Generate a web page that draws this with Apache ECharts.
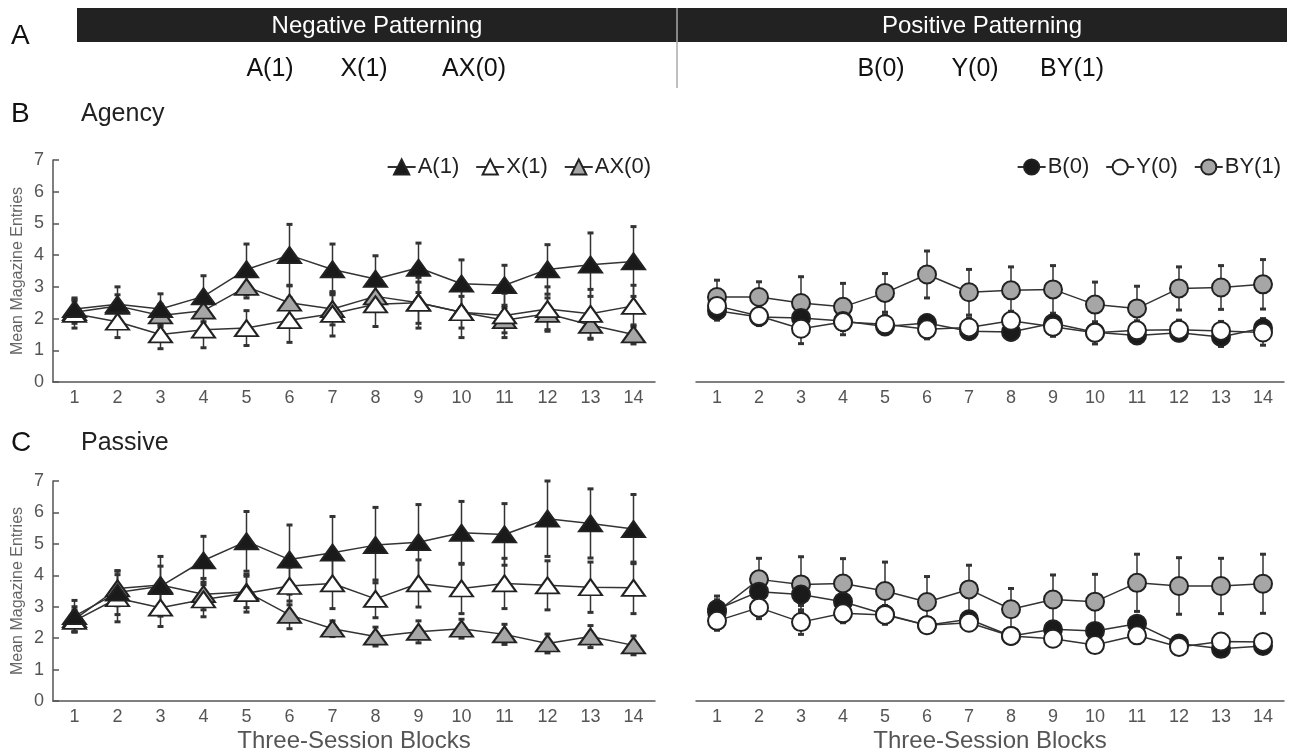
<!DOCTYPE html>
<html>
<head>
<meta charset="utf-8">
<script src="https://cdn.jsdelivr.net/npm/echarts@6/dist/echarts.min.js"></script>
<style>
  html, body { margin: 0; padding: 0; background: #fff; }
  #main { width: 1299px; height: 754px; }
</style>
</head>
<body>
<div id="main"></div>
<script>
// blocks on the x axis
var blocks = ["1", "2", "3", "4", "5", "6", "7", "8", "9", "10", "11", "12", "13", "14"];
var yTicks = [0, 1, 2, 3, 4, 5, 6, 7];

// B - Agency, negative patterning
var agencyA = [2.3, 2.45, 2.3, 2.7, 3.55, 4.0, 3.55, 3.25, 3.6, 3.1, 3.05, 3.55, 3.7, 3.8];
var agencyAErr = [0.35, 0.55, 0.48, 0.65, 0.8, 0.97, 0.8, 0.73, 0.78, 0.75, 0.63, 0.78, 1.0, 1.1];
var agencyX = [2.15, 1.9, 1.5, 1.65, 1.7, 1.95, 2.15, 2.45, 2.5, 2.2, 2.1, 2.3, 2.15, 2.4];
var agencyXErr = [0.45, 0.5, 0.45, 0.57, 0.55, 0.7, 0.7, 0.7, 0.8, 0.8, 0.7, 0.7, 0.77, 0.65];
var agencyAX = [2.2, 2.4, 2.1, 2.25, 3.0, 2.5, 2.3, 2.7, 2.5, 2.2, 1.95, 2.15, 1.8, 1.5];
var agencyAXErr = [0.35, 0.35, 0.35, 0.35, 0.35, 0.55, 0.5, 0.45, 0.65, 0.5, 0.4, 0.5, 0.45, 0.3];

// B - Agency, positive patterning
var agencyB = [2.25, 2.05, 2.02, 1.92, 1.75, 1.86, 1.6, 1.58, 1.85, 1.57, 1.47, 1.55, 1.42, 1.7];
var agencyBErr = [0.3, 0.2, 0.25, 0.3, 0.25, 0.25, 0.25, 0.25, 0.25, 0.25, 0.25, 0.25, 0.3, 0.3];
var agencyY = [2.4, 2.08, 1.68, 1.89, 1.82, 1.66, 1.72, 1.93, 1.74, 1.55, 1.63, 1.65, 1.61, 1.56];
var agencyYErr = [0.3, 0.3, 0.47, 0.4, 0.3, 0.3, 0.3, 0.3, 0.3, 0.35, 0.3, 0.3, 0.3, 0.4];
var agencyBY = [2.68, 2.68, 2.49, 2.37, 2.81, 3.39, 2.83, 2.89, 2.92, 2.44, 2.32, 2.95, 2.98, 3.08];
var agencyBYErr = [0.53, 0.48, 0.83, 0.74, 0.61, 0.74, 0.72, 0.74, 0.75, 0.71, 0.7, 0.68, 0.69, 0.78];

// C - Passive, negative patterning
var passiveA = [2.7, 3.45, 3.65, 4.47, 5.08, 4.5, 4.72, 4.96, 5.05, 5.35, 5.3, 5.8, 5.65, 5.47];
var passiveAErr = [0.5, 0.7, 0.95, 0.77, 0.95, 1.1, 1.15, 1.2, 1.2, 1.0, 0.98, 1.2, 1.1, 1.1];
var passiveX = [2.55, 3.27, 2.97, 3.23, 3.43, 3.66, 3.74, 3.25, 3.74, 3.58, 3.74, 3.68, 3.62, 3.6];
var passiveXErr = [0.35, 0.75, 0.6, 0.55, 0.6, 0.6, 0.8, 0.6, 0.75, 0.8, 0.8, 0.78, 0.8, 0.82];
var passiveAX = [2.6, 3.58, 3.69, 3.4, 3.47, 2.74, 2.3, 2.05, 2.2, 2.3, 2.12, 1.83, 2.05, 1.77];
var passiveAXErr = [0.4, 0.55, 0.6, 0.5, 0.5, 0.44, 0.25, 0.3, 0.35, 0.3, 0.32, 0.3, 0.35, 0.3];

// C - Passive, positive patterning
var passiveB = [2.92, 3.48, 3.39, 3.16, 2.76, 2.41, 2.6, 2.07, 2.28, 2.23, 2.46, 1.83, 1.66, 1.75];
var passiveBErr = [0.3, 0.4, 0.35, 0.3, 0.25, 0.2, 0.25, 0.2, 0.2, 0.2, 0.2, 0.15, 0.15, 0.15];
var passiveY = [2.55, 2.97, 2.51, 2.79, 2.74, 2.41, 2.49, 2.07, 1.98, 1.78, 2.09, 1.72, 1.89, 1.88];
var passiveYErr = [0.3, 0.35, 0.39, 0.3, 0.3, 0.2, 0.25, 0.2, 0.2, 0.2, 0.15, 0.15, 0.15, 0.15];
var passiveBY = [2.84, 3.87, 3.71, 3.74, 3.5, 3.15, 3.55, 2.92, 3.23, 3.16, 3.76, 3.66, 3.66, 3.73];
var passiveBYErr = [0.5, 0.67, 0.88, 0.79, 0.92, 0.81, 0.77, 0.66, 0.78, 0.87, 0.91, 0.9, 0.88, 0.94];

var FONT = "Liberation Sans, Arial, sans-serif";
var INK = "#222";
var AXIS = "#555";

var chart = echarts.init(document.getElementById("main"));

var panels = [
  { left: 53, top: 160, width: 602, height: 222, yShow: true, xName: "" },
  { left: 696, top: 160, width: 588, height: 222, yShow: false, xName: "" },
  { left: 53, top: 481, width: 602, height: 222, yShow: true, xName: "Three-Session Blocks" },
  { left: 696, top: 481, width: 588, height: 222, yShow: false, xName: "Three-Session Blocks" },
];

var grids = [], xAxes = [], yAxes = [];
panels.forEach(function (p, i) {
  grids.push({ left: p.left, top: p.top, width: p.width, height: p.height });
  xAxes.push({
    type: "category",
    gridIndex: i,
    data: blocks,
    boundaryGap: true,
    name: p.xName,
    nameLocation: "middle",
    nameGap: 28,
    nameTextStyle: { fontFamily: FONT, fontSize: 24, color: AXIS },
    axisLine: { lineStyle: { color: AXIS, width: 1.5 } },
    axisTick: { alignWithLabel: true, inside: true, length: 6, lineStyle: { color: AXIS, width: 1.5 } },
    axisLabel: { fontFamily: FONT, fontSize: 18, color: AXIS, margin: 7 },
    splitLine: { show: false },
  });
  yAxes.push({
    type: "value",
    gridIndex: i,
    min: yTicks[0],
    max: yTicks[yTicks.length - 1],
    interval: 1,
    show: p.yShow,
    name: p.yShow ? "Mean Magazine Entries" : "",
    nameLocation: "middle",
    nameGap: 27,
    nameTextStyle: { fontFamily: FONT, fontSize: 16, color: "#666" },
    axisLine: { show: true, lineStyle: { color: AXIS, width: 1.5 } },
    axisTick: { show: true, inside: true, length: 6, lineStyle: { color: AXIS, width: 1.5 } },
    axisLabel: { fontFamily: FONT, fontSize: 18, color: AXIS, margin: 9 },
    splitLine: { show: false },
  });
});

function errorBars(idx, mean, err) {
  return {
    type: "custom",
    xAxisIndex: idx,
    yAxisIndex: idx,
    z: 1,
    silent: true,
    data: mean.map(function (m, i) { return [i, m, err[i]]; }),
    renderItem: function (params, api) {
      var x = api.value(0), m = api.value(1), e = api.value(2);
      var hi = api.coord([x, m + e]);
      var lo = api.coord([x, m - e]);
      var hw = 3;
      var st = { stroke: "#333", lineWidth: 1.5 };
      var cap = { stroke: "#333", lineWidth: 3 };
      return {
        type: "group",
        children: [
          { type: "line", shape: { x1: hi[0], y1: hi[1], x2: lo[0], y2: lo[1] }, style: st },
          { type: "line", shape: { x1: hi[0] - hw, y1: hi[1], x2: hi[0] + hw, y2: hi[1] }, style: cap },
          { type: "line", shape: { x1: lo[0] - hw, y1: lo[1], x2: lo[0] + hw, y2: lo[1] }, style: cap },
        ],
      };
    },
  };
}

function lineSeries(idx, name, values, symbol, fill) {
  return {
    type: "line",
    name: name,
    xAxisIndex: idx,
    yAxisIndex: idx,
    z: 3,
    data: values,
    symbol: symbol,
    symbolSize: symbol === "triangle" ? [23, 16] : 18,
    showAllSymbol: true,
    lineStyle: { color: "#333", width: 1.5 },
    itemStyle: { color: fill, borderColor: INK, borderWidth: 2 },
    emphasis: { disabled: true },
  };
}

var series = [
  errorBars(0, agencyA, agencyAErr),
  errorBars(0, agencyX, agencyXErr),
  errorBars(0, agencyAX, agencyAXErr),
  errorBars(1, agencyB, agencyBErr),
  errorBars(1, agencyY, agencyYErr),
  errorBars(1, agencyBY, agencyBYErr),
  errorBars(2, passiveA, passiveAErr),
  errorBars(2, passiveX, passiveXErr),
  errorBars(2, passiveAX, passiveAXErr),
  errorBars(3, passiveB, passiveBErr),
  errorBars(3, passiveY, passiveYErr),
  errorBars(3, passiveBY, passiveBYErr),

  lineSeries(0, "AX(0)", agencyAX, "triangle", "#a6a6a6"),
  lineSeries(0, "X(1)", agencyX, "triangle", "#ffffff"),
  lineSeries(0, "A(1)", agencyA, "triangle", "#1a1a1a"),
  lineSeries(1, "BY(1)", agencyBY, "circle", "#a6a6a6"),
  lineSeries(1, "B(0)", agencyB, "circle", "#1a1a1a"),
  lineSeries(1, "Y(0)", agencyY, "circle", "#ffffff"),
  lineSeries(2, "AX(0)", passiveAX, "triangle", "#a6a6a6"),
  lineSeries(2, "X(1)", passiveX, "triangle", "#ffffff"),
  lineSeries(2, "A(1)", passiveA, "triangle", "#1a1a1a"),
  lineSeries(3, "BY(1)", passiveBY, "circle", "#a6a6a6"),
  lineSeries(3, "B(0)", passiveB, "circle", "#1a1a1a"),
  lineSeries(3, "Y(0)", passiveY, "circle", "#ffffff"),
];

var legendText = { fontFamily: FONT, fontSize: 22, color: INK, padding: [0, 0, 0, -3] };

function headerText(x, y, text, size, color, align) {
  return {
    type: "text", x: x, y: y,
    style: { text: text, fill: color, font: size + "px " + FONT, textAlign: align || "center", textVerticalAlign: "middle" },
  };
}

var option = {
  animation: false,
  grid: grids,
  xAxis: xAxes,
  yAxis: yAxes,
  legend: [
    {
      data: ["A(1)", "X(1)", "AX(0)"],
      right: 1299 - 656,
      top: 151,
      itemWidth: 28,
      itemHeight: 19,
      itemGap: 16,
      textStyle: legendText,
      selectedMode: false,
    },
    {
      data: ["B(0)", "Y(0)", "BY(1)"],
      right: 13,
      top: 151,
      itemWidth: 28,
      itemHeight: 19,
      itemGap: 16,
      textStyle: legendText,
      selectedMode: false,
    },
  ],
  graphic: [
    { type: "rect", shape: { x: 77, y: 8, width: 1210, height: 34 }, style: { fill: "#222" } },
    { type: "line", shape: { x1: 677, y1: 8, x2: 677, y2: 88 }, style: { stroke: "#aaa", lineWidth: 1.5 }, z: 10 },
    headerText(377, 26, "Negative Patterning", 24, "#fff"),
    headerText(982, 26, "Positive Patterning", 24, "#fff"),
    headerText(11, 36, "A", 28, "#111", "left"),
    headerText(270, 69, "A(1)", 25, "#111"),
    headerText(364, 69, "X(1)", 25, "#111"),
    headerText(474, 69, "AX(0)", 25, "#111"),
    headerText(881, 69, "B(0)", 25, "#111"),
    headerText(975, 69, "Y(0)", 25, "#111"),
    headerText(1072, 69, "BY(1)", 25, "#111"),
    headerText(11, 114, "B", 28, "#111", "left"),
    headerText(81, 114, "Agency", 25, "#222", "left"),
    headerText(11, 443, "C", 28, "#111", "left"),
    headerText(81, 443, "Passive", 25, "#222", "left"),
  ],
  series: series,
};

chart.setOption(option);
</script>
</body>
</html>
